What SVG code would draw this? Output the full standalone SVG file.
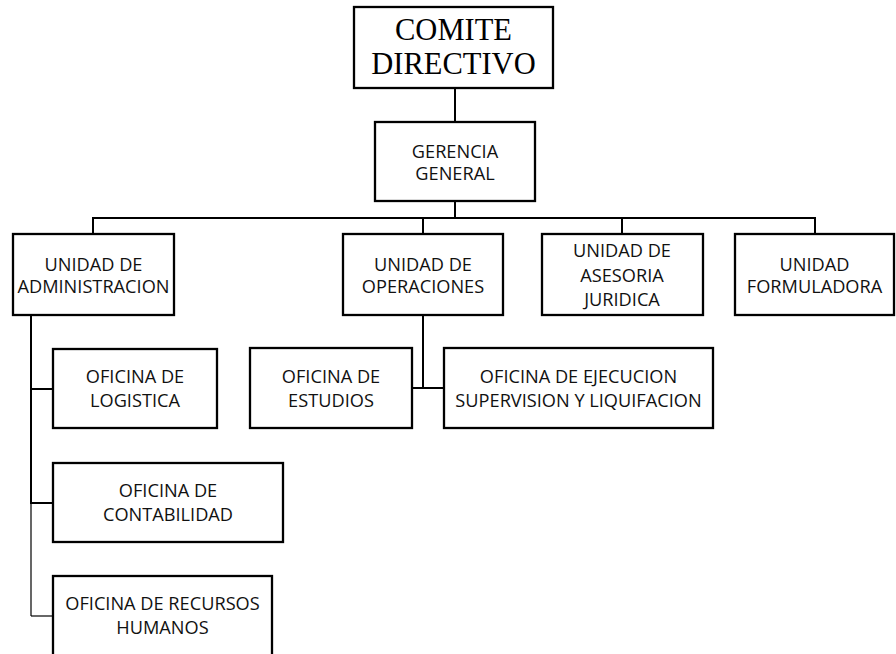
<svg xmlns="http://www.w3.org/2000/svg" width="896" height="654" viewBox="0 0 896 654">
<style>
.box{fill:#fff;stroke:#000;stroke-width:2.3}
.ln{stroke:#000;stroke-width:2;fill:none}
.thin{stroke:#000;stroke-width:1.2;fill:none}
.t{font-family:"Open Sans","Liberation Sans",sans-serif;font-size:18.2px;fill:#111;text-anchor:middle}
.tt{font-family:"Liberation Serif","Times New Roman",serif;font-size:30.5px;fill:#000;text-anchor:middle}
</style>
<rect width="896" height="654" fill="#fff"/>
<g id="connectors">
<line class="ln" x1="455" y1="88" x2="455" y2="122"/>
<line class="ln" x1="455" y1="201" x2="455" y2="218"/>
<line class="ln" x1="92" y1="218" x2="816" y2="218"/>
<line class="ln" x1="93" y1="218" x2="93" y2="234"/>
<line class="ln" x1="423" y1="218" x2="423" y2="234"/>
<line class="ln" x1="622" y1="218" x2="622" y2="234"/>
<line class="ln" x1="815" y1="217" x2="815" y2="234"/>
<line class="ln" x1="31" y1="315" x2="31" y2="503"/>
<line class="thin" x1="31" y1="503" x2="31" y2="616"/>
<line class="ln" x1="30" y1="389" x2="53" y2="389"/>
<line class="ln" x1="30" y1="503" x2="53" y2="503"/>
<line class="thin" x1="31" y1="616" x2="53" y2="616"/>
<line class="ln" x1="423" y1="315" x2="423" y2="388"/>
<line class="ln" x1="412" y1="388" x2="444" y2="388"/>
</g>
<g id="comite">
<rect class="box" x="354" y="7" width="199" height="81"/>
<text class="tt" x="453.5" y="39.5">COMITE</text>
<text class="tt" x="453.5" y="74">DIRECTIVO</text>
</g>
<g id="gerencia">
<rect class="box" x="375" y="122" width="160" height="79"/>
<text class="t" x="455" y="158.3">GERENCIA</text>
<text class="t" x="455" y="180">GENERAL</text>
</g>
<g id="u-admin">
<rect class="box" x="13" y="234" width="161" height="81"/>
<text class="t" x="93.5" y="270.7">UNIDAD DE</text>
<text class="t" x="93.5" y="293.3">ADMINISTRACION</text>
</g>
<g id="u-oper">
<rect class="box" x="343" y="234" width="160" height="81"/>
<text class="t" x="423" y="270.7">UNIDAD DE</text>
<text class="t" x="423" y="292.7">OPERACIONES</text>
</g>
<g id="u-asesoria">
<rect class="box" x="542" y="234" width="161" height="81"/>
<text class="t" x="622" y="257.3">UNIDAD DE</text>
<text class="t" x="622" y="282">ASESORIA</text>
<text class="t" x="622" y="306">JURIDICA</text>
</g>
<g id="u-form">
<rect class="box" x="735" y="234" width="159" height="81"/>
<text class="t" x="814.5" y="270.7">UNIDAD</text>
<text class="t" x="814.5" y="293.3">FORMULADORA</text>
</g>
<g id="o-logistica">
<rect class="box" x="53" y="349" width="164" height="79"/>
<text class="t" x="135" y="383.3">OFICINA DE</text>
<text class="t" x="135" y="406.7">LOGISTICA</text>
</g>
<g id="o-contabilidad">
<rect class="box" x="53" y="463" width="230" height="79"/>
<text class="t" x="168" y="496.7">OFICINA DE</text>
<text class="t" x="168" y="520.7">CONTABILIDAD</text>
</g>
<g id="o-rrhh">
<rect class="box" x="53" y="576" width="219" height="95"/>
<text class="t" x="162.5" y="610">OFICINA DE RECURSOS</text>
<text class="t" x="162.5" y="634">HUMANOS</text>
</g>
<g id="o-estudios">
<rect class="box" x="250" y="348" width="162" height="80"/>
<text class="t" x="331" y="383.3">OFICINA DE</text>
<text class="t" x="331" y="406.7">ESTUDIOS</text>
</g>
<g id="o-ejecucion">
<rect class="box" x="444" y="348" width="269" height="80"/>
<text class="t" x="578.5" y="383.3">OFICINA DE EJECUCION</text>
<text class="t" x="578.5" y="406.7">SUPERVISION Y LIQUIFACION</text>
</g>
</svg>
